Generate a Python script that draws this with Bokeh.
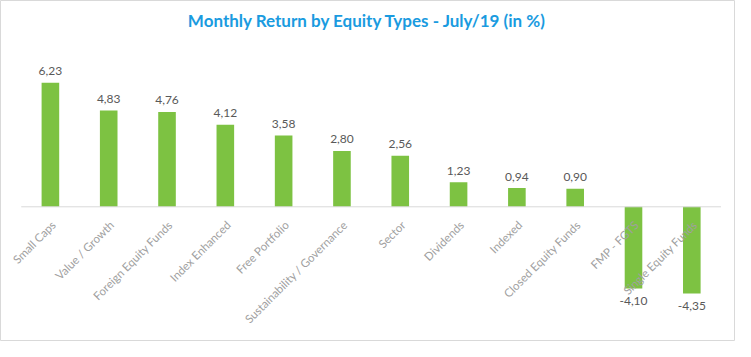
import math
from bokeh.plotting import figure
from bokeh.models import ColumnDataSource, Range1d, Label
from bokeh.core.properties import value
from bokeh.embed import file_html
from bokeh.resources import INLINE

categories = ["Small Caps", "Value / Growth", "Foreign Equity Funds", "Index Enhanced",
              "Free Portfolio", "Sustainability / Governance", "Sector", "Dividends",
              "Indexed", "Closed Equity Funds", "FMP - FGTS", "Single Equity Funds"]
returns = [6.23, 4.83, 4.76, 4.12, 3.58, 2.80, 2.56, 1.23, 0.94, 0.90, -4.10, -4.35]
title_text = "Monthly Return by Equity Types - July/19 (in %)"

W, H = 735, 341
px_per_cat = 58.31
px_per_unit = 19.93
x0_px = 49.9    # center of first category (figure px)
zero_px = 206.3

x_start = -x0_px / px_per_cat
x_end = (W - x0_px) / px_per_cat
y_end = zero_px / px_per_unit
y_start = -(H - zero_px) / px_per_unit

n = len(categories)
xs = list(range(n))
labels = [f"{v:.2f}".replace(".", ",") for v in returns]
voff = [-11.5 if v >= 0 else 12.5 for v in returns]

src = ColumnDataSource(dict(x=xs, top=returns, cat=categories, lab=labels, voff=voff,
                            zero=[0] * n))

p = figure(width=W, height=H, output_backend="svg", toolbar_location=None,
           x_range=Range1d(x_start, x_end), y_range=Range1d(y_start, y_end),
           x_axis_location=None, y_axis_location=None,
           min_border=0, min_border_left=0, min_border_right=0,
           min_border_top=0, min_border_bottom=0)
p.grid.visible = False
p.outline_line_color = "#d9d9d9"
p.outline_line_width = 1
p.background_fill_color = "white"
p.border_fill_color = "white"

p.vbar(x="x", top="top", bottom=0, width=17.6 / px_per_cat, source=src,
       fill_color="#7dc242", line_color=None)

# zero axis line
p.segment(x0=[-0.5], y0=[0], x1=[n - 0.5], y1=[0], line_color="#d9d9d9", line_width=1)

# value labels
p.text(x="x", y="top", text="lab", source=src, text_align="center",
       text_baseline="middle", y_offset="voff", text_color="#595959",
       text_font=value("Lato"), text_font_size="12px")

# category labels
p.text(x="x", y="zero", text="cat", source=src, angle=math.pi / 4,
       text_align="right", text_baseline="middle", x_offset=3, y_offset=16,
       text_color="#a0a0a0", text_font=value("Lato"), text_font_size="11.5px")

title = Label(x=(367 - x0_px) / px_per_cat, y=(zero_px - 20) / px_per_unit,
              text=title_text, text_align="center", text_baseline="middle",
              text_color="#1a9be0", text_font="Lato", text_font_style="bold",
              text_font_size="17px")
p.add_layout(title)

open("out.html", "w").write(file_html(p, INLINE))
